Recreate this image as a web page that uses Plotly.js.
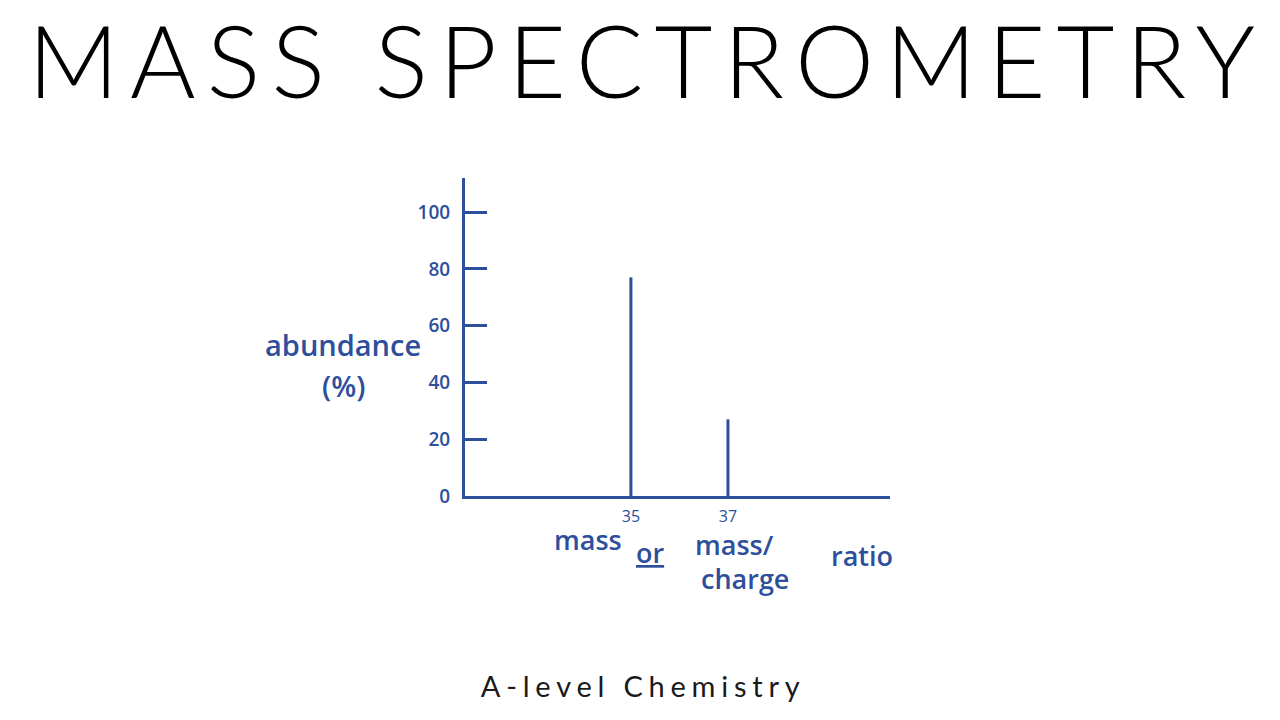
<!DOCTYPE html>
<html>
<head>
<meta charset="utf-8">
<script src="https://cdn.plot.ly/plotly-3.0.1.min.js"></script>
<style>
  html, body { margin: 0; padding: 0; background: #fff; }
  #chart { width: 1280px; height: 720px; }
</style>
</head>
<body>
<div id="chart"></div>
<script>
// Data
const massNumbers = [35, 37];
const abundances = [77, 27];
const yTickValues = [0, 20, 40, 60, 80, 100];
const yTickLabels = ['0', '20', '40', '60', '80', '100'];
const xTickValues = [35, 37];
const xTickLabels = ['35', '37'];

const titleText = 'MASS SPECTROMETRY';
const footerText = 'A-level Chemistry';
const yLabelLines = ['abundance', '(%)'];
const xLabelParts = ['mass', '<u>or</u>', 'mass/', 'charge', 'ratio'];

const ink = '#2d4f9c';
const handFont = 'Open Sans, DejaVu Sans, sans-serif';

// build stick (line) spectrum from the data
const sx = [], sy = [];
massNumbers.forEach((m, i) => { sx.push(m, m, null); sy.push(0, abundances[i], null); });

const traces = [{
  type: 'scatter', mode: 'lines', x: sx, y: sy,
  line: { color: ink, width: 3 }, hoverinfo: 'skip', showlegend: false
}];

function hand(text, x, y, size) {
  return { text: text, xref: 'paper', yref: 'paper', x: x, y: y,
    xanchor: 'center', yanchor: 'middle', showarrow: false,
    font: { family: handFont, size: size, color: ink, weight: 600 } };
}

const layout = {
  width: 1280, height: 720,
  paper_bgcolor: '#fff', plot_bgcolor: '#fff',
  margin: { l: 465, r: 390, t: 178, b: 224 },
  showlegend: false,
  title: {
    text: titleText,
    font: { family: 'Lato, Open Sans, sans-serif', size: 100, color: '#000', weight: 300 },
    x: 0.5, xanchor: 'center', y: 1 - 63 / 720, yanchor: 'middle', yref: 'container'
  },
  xaxis: {
    range: [31.58, 40.34],
    showgrid: false, zeroline: false,
    showline: true, linecolor: ink, linewidth: 3,
    tickmode: 'array', tickvals: xTickValues, ticktext: xTickLabels,
    ticks: '', ticklabelstandoff: 4,
    tickfont: { family: handFont, size: 16, color: ink }
  },
  yaxis: {
    range: [0, 112],
    showgrid: false, zeroline: false,
    showline: true, linecolor: ink, linewidth: 3,
    tickmode: 'array', tickvals: yTickValues, ticktext: yTickLabels,
    ticks: 'inside', ticklen: 22, tickwidth: 3, tickcolor: ink,
    ticklabelstandoff: 8,
    tickfont: { family: handFont, size: 19, color: ink, weight: 600 }
  },
  annotations: [
    hand(yLabelLines[0], -0.287, 0.475, 29),
    hand(yLabelLines[1], -0.287, 0.349, 29),
    hand(xLabelParts[0], 0.289, -0.138, 27),
    hand(xLabelParts[1], 0.435, -0.179, 27),
    hand(xLabelParts[2], 0.635, -0.154, 27),
    hand(xLabelParts[3], 0.659, -0.258, 27),
    hand(xLabelParts[4], 0.934, -0.186, 27),
    { text: footerText, xref: 'paper', yref: 'paper', x: 0.4118, y: -0.597,
      xanchor: 'center', yanchor: 'middle', showarrow: false,
      font: { family: 'Lato, Open Sans, sans-serif', size: 29, color: '#1a1a1a' } }
  ]
};

Plotly.newPlot('chart', traces, layout, { displayModeBar: false, staticPlot: true }).then(() => {
  // spread the title letters across the page like the reference
  const t = document.querySelector('.gtitle');
  if (t) {
    const natural = t.getComputedTextLength();
    const n = titleText.length;
    const target = 1227;
    const s = (target - natural) / (n - 1);
    t.style.letterSpacing = s + 'px';
    t.setAttribute('text-anchor', 'start');
    t.setAttribute('x', '28');
  }
  document.querySelectorAll('.annotation-text').forEach(a => {
    if (a.textContent === footerText) {
      const natural = a.getComputedTextLength();
      const s = (319 - natural) / (footerText.length - 1);
      a.style.letterSpacing = s + 'px';
      a.setAttribute('dx', (s / 2) + 'px');
    }
  });
});
</script>
</body>
</html>
